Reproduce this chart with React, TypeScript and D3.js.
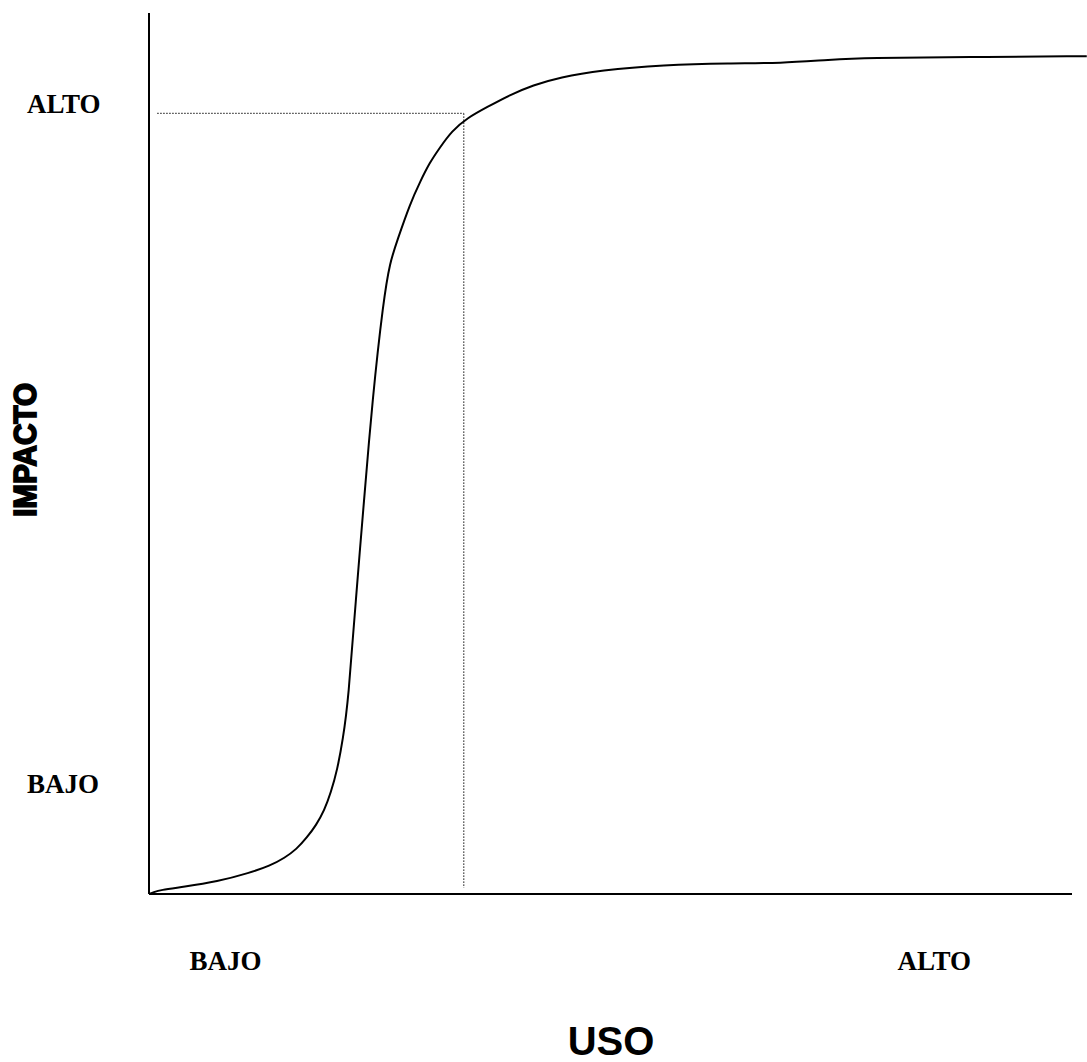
import React from "react";
import * as d3 from "d3";

// Curve sample points (x: uso 0-100, y: impacto 0-100)
const usoValues = [0.0, 0.5, 1.2, 3.7, 7.4, 10.9, 13.1, 14.7, 16.0, 17.1, 18.1, 19.0, 19.7, 20.4, 21.0, 21.6, 22.4, 23.3, 24.2, 25.4, 26.1, 26.9, 28.3, 29.4, 30.4, 31.5, 32.8, 34.5, 36.6, 39.1, 41.6, 44.5, 48.9, 55.7, 63.0, 68.4, 73.8, 77.8, 88.6, 101.6];
const impactoValues = [0.0, 0.2, 0.45, 0.8, 1.4, 2.4, 3.2, 4.1, 5.1, 6.4, 7.8, 9.5, 11.5, 14.1, 17.5, 22.0, 33.4, 44.7, 56.1, 67.4, 71.7, 74.2, 78.4, 80.9, 83.0, 84.7, 86.6, 88.1, 89.3, 90.7, 91.8, 92.7, 93.5, 94.1, 94.3, 94.3, 94.7, 94.9, 95.0, 95.1];

const yTickLabels = [
  { label: "ALTO", value: 88.6 },
  { label: "BAJO", value: 11.5 },
];
const xTickLabels = [
  { label: "BAJO", value: 4.4 },
  { label: "ALTO", value: 81.1 },
];
const refPoint = { x: 34.1, y: 88.6 };
const xTitle = "USO";
const yTitle = "IMPACTO";

export default function App() {
  const W = 1087;
  const H = 1062;
  const x = d3.scaleLinear().domain([0, 100]).range([149, 1072]);
  const y = d3.scaleLinear().domain([0, 100]).range([894, 13]);

  const pts: [number, number][] = usoValues.map((u, i) => [u, impactoValues[i]]);
  const line = d3
    .line<[number, number]>()
    .x((d) => x(d[0]))
    .y((d) => y(d[1]))
    .curve(d3.curveBasis);

  const serif = "'Liberation Serif', 'Times New Roman', serif";
  const sans = "'Liberation Sans', Arial, sans-serif";

  return (
    <svg
      width={W}
      height={H}
      style={{ position: "absolute", left: 0, top: 0, background: "#fff" }}
    >
      {/* axes */}
      <line x1={x(0)} y1={y(0)} x2={x(0)} y2={y(100)} stroke="#000" strokeWidth={2} />
      <line x1={x(0)} y1={y(0)} x2={x(100)} y2={y(0)} stroke="#000" strokeWidth={2} />

      {/* dotted reference lines */}
      <line
        x1={x(0.9)}
        y1={y(refPoint.y)}
        x2={x(refPoint.x)}
        y2={y(refPoint.y)}
        stroke="#222"
        strokeWidth={1.3}
        strokeDasharray="1.3 1.7"
      />
      <line
        x1={x(refPoint.x)}
        y1={y(refPoint.y)}
        x2={x(refPoint.x)}
        y2={y(0.7)}
        stroke="#222"
        strokeWidth={1.3}
        strokeDasharray="1.3 1.7"
      />

      {/* curve */}
      <path d={line(pts) || ""} fill="none" stroke="#000" strokeWidth={2} />

      {/* y labels */}
      {yTickLabels.map((t) => (
        <text
          key={"y" + t.label}
          x={27}
          y={y(t.value)}
          fontFamily={serif}
          fontWeight="bold"
          fontSize={27}
        >
          {t.label}
        </text>
      ))}
      {/* x labels */}
      {xTickLabels.map((t) => (
        <text
          key={"x" + t.label}
          x={x(t.value)}
          y={970}
          fontFamily={serif}
          fontWeight="bold"
          fontSize={27}
        >
          {t.label}
        </text>
      ))}

      {/* titles */}
      <text
        x={611}
        y={1055}
        textAnchor="middle"
        fontFamily={sans}
        fontWeight="bold"
        fontSize={40}
      >
        {xTitle}
      </text>
      <text
        transform="translate(36,450) rotate(-90)"
        textAnchor="middle"
        fontFamily={sans}
        fontWeight="900"
        fontSize={31}
        stroke="#000"
        strokeWidth={1.8}
        textLength={134}
        lengthAdjust="spacingAndGlyphs"
      >
        {yTitle}
      </text>
    </svg>
  );
}
